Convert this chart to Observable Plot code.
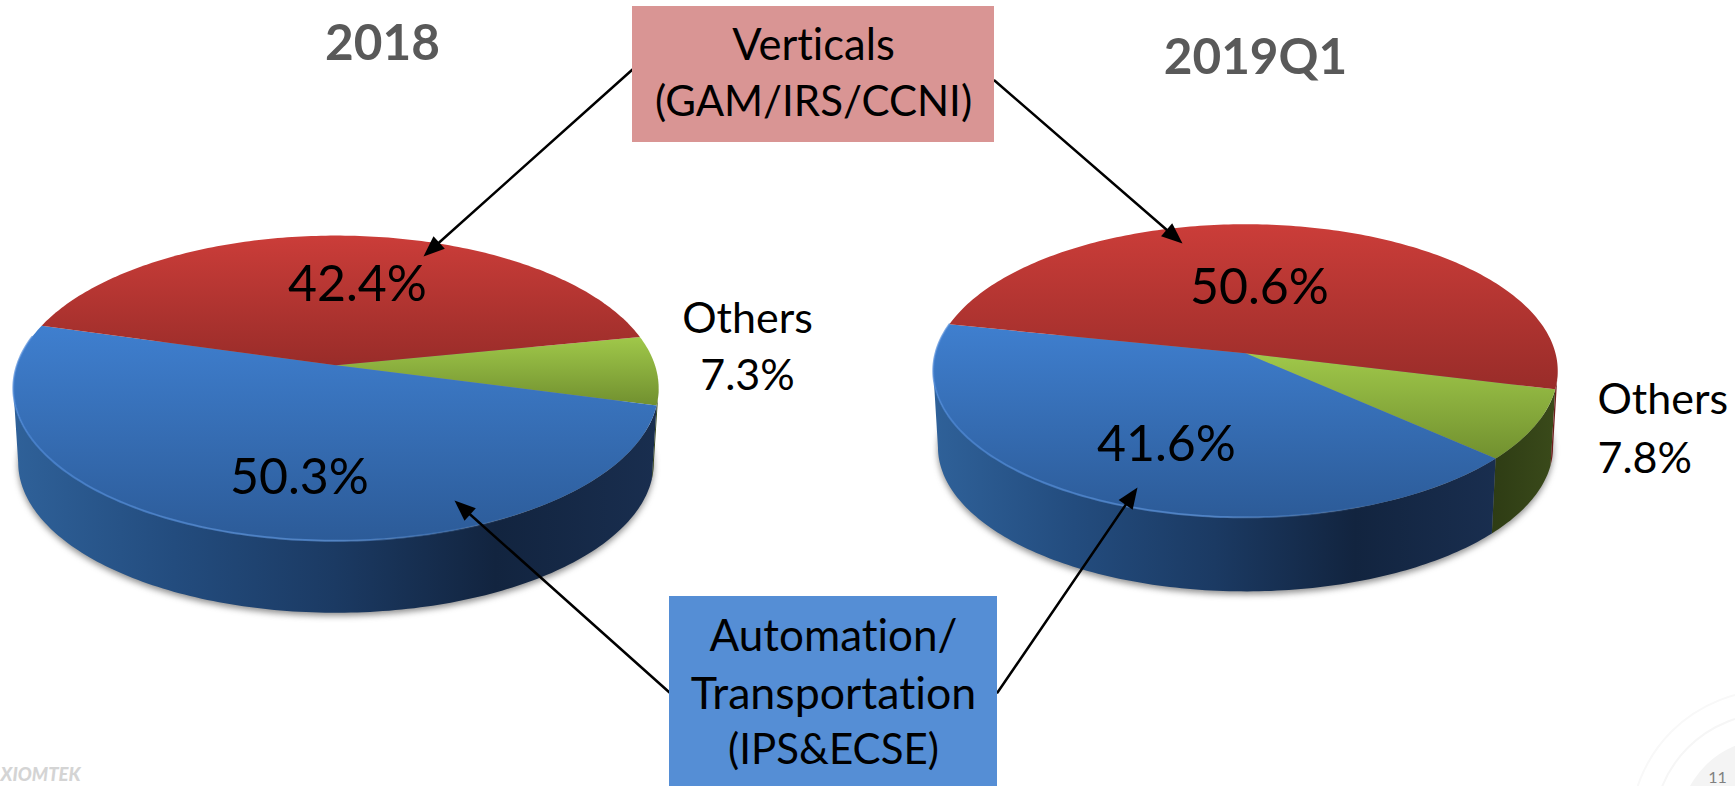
<!DOCTYPE html>
<html>
<head>
<meta charset="utf-8">
<style>html,body{margin:0;padding:0;background:#fff;overflow:hidden}svg{display:block}svg text{font-variant-ligatures:none}</style>
<script src="https://cdn.jsdelivr.net/npm/d3@7"></script>
<script src="https://cdn.jsdelivr.net/npm/@observablehq/plot@0.6"></script>
</head>
<body>
<div id="chart"></div>
<script>
// ---- data ----
const categories = ["Others", "Automation/Transportation", "Verticals"];
const shares2018 = [7.3, 50.3, 42.4];
const shares2019Q1 = [7.8, 41.6, 50.6];
const pieTitles = ["2018", "2019Q1"];
const verticalsLabel = ["Verticals", "(GAM/IRS/CCNI)"];
const automationLabel = ["Automation/", "Transportation", "(IPS&ECSE)"];
const othersWord = "Others";

// ---- layout ----
const W = 1735, H = 786, FONT = "Lato, Carlito, Calibri, sans-serif", LABEL = 43;
const pieLeft  = {ax: 335.5, ay: 364.8, k: 319, q: 0.4676, p: 0.15,  start: -11.3, dy: 74.6, s: 0.985};
const pieRight = {ax: 1245, ay: 352.8, k: 310, q: 0.466, p: 0.1194, start: 14,   dy: 76.5, s: 0.985};
const faceFill = {"Others": "url(#faceGreen)", "Automation/Transportation": "url(#faceBlue)", "Verticals": "url(#faceRed)"};
const wallFill = {"Others": "url(#wallGreen)", "Automation/Transportation": "url(#wallBlue)", "Verticals": "url(#wallRed)"};

// slice angles follow from the shares
function slices(shares, pie) {
  let a = pie.start;
  return shares.map((v, i) => { const a0 = a; a += v * 3.6; return {cat: categories[i], a0, a1: a}; });
}
function topPt(pie, deg) {
  const t = deg * Math.PI / 180, w = 1 - pie.p * Math.sin(t);
  return [pie.ax + pie.k * Math.cos(t) / w, pie.ay + pie.k * pie.q * Math.sin(t) / w];
}
function bottomPt(pie, deg) {
  const [x, y] = topPt(pie, deg);
  return [pie.ax + pie.s * (x - pie.ax), pie.ay + pie.dy + pie.s * (y - pie.ay)];
}
const arc = (f, pie, a0, a1) => d3.range(0, 1.0001, 1 / Math.max(2, Math.ceil(Math.abs(a1 - a0)))).map(t => f(pie, a0 + (a1 - a0) * t));
const shape = (pts, fill, extra = {}) => Plot.line(pts, {x: d => d[0], y: d => d[1], fill, stroke: "none", curve: "linear", ...extra});

function pieMarks(shares, pie) {
  const out = [];
  const vis0 = Math.asin(pie.p) * 180 / Math.PI, vis1 = 180 - vis0;
  // soft shadow under the disc
  out.push(shape(arc(bottomPt, pie, 0, 360).map(d => [d[0], d[1] + 3]), "#444", {fillOpacity: 0.6, imageFilter: "blur(3px)"}));
  const sl = slices(shares, pie);
  // side walls
  for (const s of sl) for (const shift of [-360, 0, 360]) {
    const a0 = Math.max(s.a0, vis0 + shift), a1 = Math.min(s.a1, vis1 + shift);
    if (a1 > a0) out.push(shape([...arc(topPt, pie, a0, a1), ...arc(bottomPt, pie, a1, a0)], wallFill[s.cat]));
  }
  // top faces
  for (const s of sl) out.push(shape([[pie.ax, pie.ay], ...arc(topPt, pie, s.a0, s.a1)], faceFill[s.cat]));
  // light bevel on the front rim
  const blue = sl.find(s => s.cat === categories[1]);
  out.push(Plot.line(arc(topPt, pie, Math.max(blue.a0, vis0), Math.min(blue.a1, vis1 + 20)), {x: d => d[0], y: d => d[1], stroke: "url(#rim)", strokeWidth: 2}));
  return out;
}

// arrows: shaft + filled head
function arrow(from, to, len = 21, half = 8.5) {
  const dx = to[0] - from[0], dy = to[1] - from[1], d = Math.hypot(dx, dy), ux = dx / d, uy = dy / d;
  const bx = to[0] - ux * len, by = to[1] - uy * len;
  return [
    Plot.line([from, [bx, by]], {x: d => d[0], y: d => d[1], stroke: "#000", strokeWidth: 2.5}),
    shape([to, [bx - uy * half, by + ux * half], [bx + uy * half, by - ux * half]], "#000")
  ];
}

// gradient defs
function gradient(id, stops, horizontal) {
  const ns = "http://www.w3.org/2000/svg", g = document.createElementNS(ns, "linearGradient");
  g.setAttribute("id", id);
  g.setAttribute("x1", 0); g.setAttribute("y1", 0);
  g.setAttribute("x2", horizontal ? 1 : 0); g.setAttribute("y2", horizontal ? 0 : 1);
  for (const [o, c, a] of stops) {
    const s = document.createElementNS(ns, "stop");
    s.setAttribute("offset", o); s.setAttribute("stop-color", c);
    if (a != null) s.setAttribute("stop-opacity", a);
    g.appendChild(s);
  }
  return g;
}
const defsMark = () => {
  const d = document.createElementNS("http://www.w3.org/2000/svg", "defs");
  d.append(
    gradient("faceRed", [[0, "#cb3d39"], [1, "#992c29"]]),
    gradient("faceBlue", [[0, "#3f7fcf"], [1, "#2c5b98"]]),
    gradient("faceGreen", [[0, "#a0c84a"], [1, "#71902f"]]),
    gradient("wallBlue", [[0, "#2f6199"], [0.25, "#234c7e"], [0.5, "#1b3a63"], [0.75, "#12243f"], [1, "#192e4f"]], true),
    gradient("wallGreen", [[0, "#2e3c14"], [1, "#3a4a1a"]], true),
    gradient("wallRed", [[0, "#6e1f1c"], [1, "#6e1f1c"]], true),
    gradient("rim", [[0, "#4a86d6", 0.7], [0.5, "#5f97df", 0.65], [0.8, "#5f97df", 0]], true)
  );
  return d;
};

const txt = (rows, extra = {}) => Plot.text(rows, {x: d => d[1], y: d => d[2], text: d => d[0], fontFamily: FONT, fontSize: LABEL, fill: "#000", textAnchor: "middle", lineAnchor: "middle", ...extra});
const box = (x1, y1, x2, y2, fill) => Plot.rect([0], {x1, y1, x2, y2, fill});

const chart = Plot.plot({
  width: W, height: H, margin: 0,
  x: {type: "linear", domain: [0, W], range: [0, W], axis: null},
  y: {type: "linear", domain: [0, H], range: [0, H], axis: null},
  marks: [
    defsMark,
    // slide decoration, bottom right
    Plot.dot([[1770, 830]], {x: d => d[0], y: d => d[1], r: 92, fill: "#f4f4f4", stroke: "none"}),
    Plot.dot([[1770, 830]], {x: d => d[0], y: d => d[1], r: 117, fill: "none", stroke: "#f6f6f6", strokeWidth: 2}),
    Plot.dot([[1770, 830]], {x: d => d[0], y: d => d[1], r: 140, fill: "none", stroke: "#f8f8f8", strokeWidth: 2}),
    ...pieMarks(shares2018, pieLeft),
    ...pieMarks(shares2019Q1, pieRight),
    ...arrow([632, 69], [423, 256]),
    ...arrow([994, 80], [1182, 243]),
    ...arrow([669, 692], [454, 500]),
    ...arrow([997, 692], [1137, 487]),
    box(632, 6, 994, 142, "#d99594"),
    box(669, 596, 997, 786, "#558ed5"),
    txt([[pieTitles[0], 382, 44], [pieTitles[1], 1255, 58]], {fontWeight: 700, fontSize: 49.5, fill: "#595959"}),
    txt([[verticalsLabel[0], 813, 46]], {fontSize: 43.5}),
    txt([[verticalsLabel[1], 813, 102]], {fontSize: 42}),
    txt([[automationLabel[0], 833, 636]], {fontSize: 44}),
    txt([[automationLabel[1], 833, 694]], {fontSize: 44.7}),
    txt([[automationLabel[2], 833, 750]], {fontSize: 42}),
    txt([[shares2018[2] + "%", 357, 284], [shares2018[1].toFixed(1) + "%", 299, 477], [shares2019Q1[2] + "%", 1259, 287], [shares2019Q1[1] + "%", 1166, 444]], {fontSize: 50}),
    txt([[othersWord, 747, 319], [shares2018[0] + "%", 747, 376]]),
    txt([[othersWord, 1597, 400], [shares2019Q1[0] + "%", 1597, 459]], {textAnchor: "start"}),
    txt([["XIOMTEK", 80, 775]], {textAnchor: "end", fontSize: 18.5, fontWeight: 900, fontStyle: "italic", fill: "#d4d4d4"}),
    txt([["11", 1717, 777]], {fontSize: 16, fill: "#808080"})
  ]
});
chart.style.background = "#fff";
document.getElementById("chart").append(chart);
</script>
</body>
</html>
